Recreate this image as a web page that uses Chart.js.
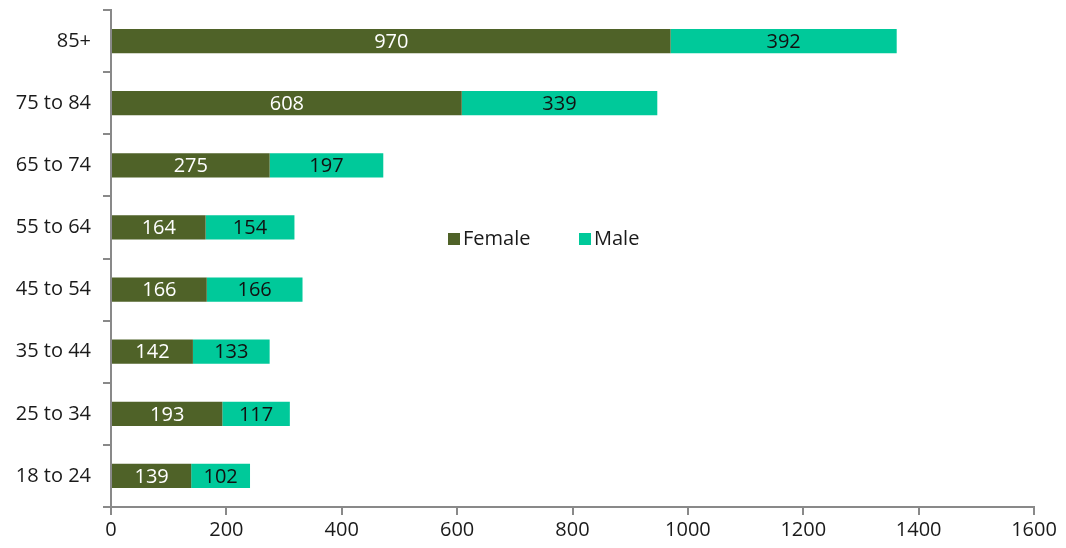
<!DOCTYPE html>
<html>
<head>
<meta charset="utf-8">
<script src="https://cdn.jsdelivr.net/npm/chart.js@4"></script>
<style>
  html, body { margin: 0; padding: 0; background: #fff; }
  #wrap { width: 1066px; height: 548px; }
</style>
</head>
<body>
<div id="wrap"><canvas id="chartAge"></canvas></div>
<script>
const ageGroups = ["85+", "75 to 84", "65 to 74", "55 to 64", "45 to 54", "35 to 44", "25 to 34", "18 to 24"];
const female = [970, 608, 275, 164, 166, 142, 193, 139];
const male = [392, 339, 197, 154, 166, 133, 117, 102];

const FONT = "'Open Sans', 'Noto Sans', sans-serif";
const axisGrey = "#898989";

// value text in the middle of each bar segment
const barLabels = {
    id: "barLabels",
    afterDatasetsDraw(chart) {
        const ctx = chart.ctx;
        ctx.save();
        ctx.font = "20px " + FONT;
        ctx.textAlign = "center";
        ctx.textBaseline = "middle";
        chart.data.datasets.forEach((ds, i) => {
            const meta = chart.getDatasetMeta(i);
            ctx.fillStyle = ds.labelColor;
            meta.data.forEach((bar, j) => {
                const cx = (bar.x + bar.base) / 2;
                ctx.fillText(ds.data[j], cx, bar.y + 1);
            });
        });
        ctx.restore();
    },
};

// legend sits inside the plot area
const innerLegend = {
    id: "innerLegend",
    afterDraw(chart) {
        const ctx = chart.ctx;
        ctx.save();
        ctx.font = "20px " + FONT;
        ctx.textBaseline = "middle";
        const y = 239;
        let x = 448;
        chart.data.datasets.forEach((ds) => {
            ctx.fillStyle = ds.backgroundColor;
            ctx.fillRect(x, y - 6, 12, 12);
            ctx.fillStyle = "#1a1a1a";
            ctx.fillText(ds.label, x + 15, y);
            x += 131;
        });
        ctx.restore();
    },
};

new Chart(document.getElementById("chartAge"), {
    type: "bar",
    data: {
        labels: ageGroups,
        datasets: [
            {
                label: "Female",
                data: female,
                backgroundColor: "#4f6228",
                labelColor: "#ffffff",
                barPercentage: 0.39,
                categoryPercentage: 1,
            },
            {
                label: "Male",
                data: male,
                backgroundColor: "#00c99a",
                labelColor: "#111111",
                barPercentage: 0.39,
                categoryPercentage: 1,
            },
        ],
    },
    options: {
        indexAxis: "y",
        responsive: true,
        maintainAspectRatio: false,
        animation: false,
        layout: { padding: { top: 10, right: 32, left: 0, bottom: 0 } },
        plugins: {
            legend: { display: false },
            tooltip: { enabled: false },
        },
        scales: {
            x: {
                stacked: true,
                min: 0,
                max: 1600,
                ticks: {
                    stepSize: 200,
                    color: "#1a1a1a",
                    font: { family: FONT, size: 20 },
                    padding: 3,
                    callback: (v) => String(v),
                },
                grid: {
                    drawOnChartArea: false,
                    drawTicks: true,
                    tickLength: 8,
                    color: axisGrey,
                    lineWidth: 2,
                },
                border: { color: axisGrey, width: 2 },
                afterFit(scale) { scale.height = 41; },
            },
            y: {
                stacked: true,
                ticks: {
                    color: "#1a1a1a",
                    font: { family: FONT, size: 20 },
                    padding: 12,
                },
                grid: {
                    offset: true,
                    drawOnChartArea: false,
                    drawTicks: true,
                    tickLength: 8,
                    color: axisGrey,
                    lineWidth: 2,
                },
                border: { color: axisGrey, width: 2 },
                afterFit(scale) {
                    scale.width = 111;
                    scale.paddingTop = 0;
                    scale.paddingBottom = 0;
                },
            },
        },
    },
    plugins: [barLabels, innerLegend],
});
</script>
</body>
</html>
